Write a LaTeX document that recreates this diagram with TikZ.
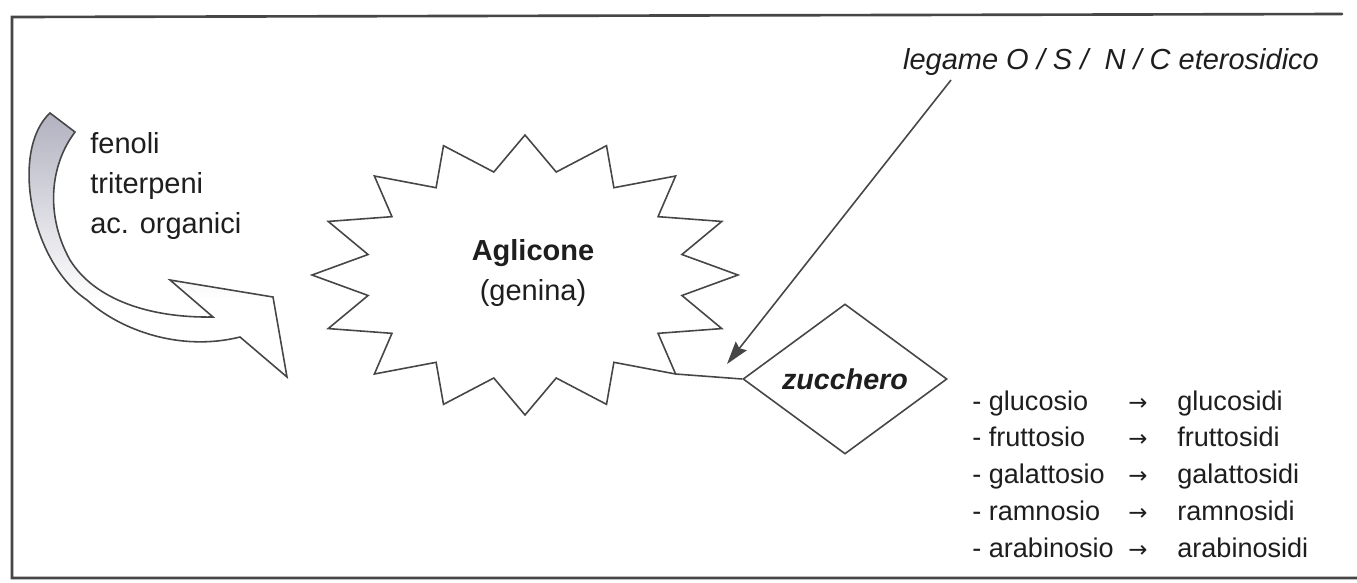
\documentclass[tikz,border=0pt]{standalone}
\usepackage{fontspec}
\setmainfont{Liberation Sans}
\newfontfamily\arrowfont{DejaVu Sans}
\usetikzlibrary{shapes.geometric,arrows.meta}
\definecolor{arrowgray}{RGB}{172,172,188}
\definecolor{inkline}{RGB}{70,70,70}
\definecolor{inktext}{RGB}{30,30,30}
\newcommand{\sugarto}{{\arrowfont\fontsize{13}{21}\selectfont\symbol{"2192}}}
\begin{document}
\begin{tikzpicture}[x=0.2mm,y=-0.2mm,
  frame/.style={line width=1.5pt, draw=inkline, line cap=round},
  outl/.style={line width=0.9pt, draw=inkline, line join=miter},
  txt/.style={inner sep=0pt, text=inktext}]
\useasboundingbox (0,0) rectangle (1357,582);
\fill[white] (0,0) rectangle (1357,582);
% frame
\draw[frame] (1342,14) -- (12,17) -- (12,578) -- (1357,578);
% curved block arrow
\def\bandpath{(50,113) .. controls (10,150) and (30,262) .. (87,300)
  .. controls (120,330) and (180,352) .. (240,337)
  -- (287,377) -- (273,297) -- (170,280) -- (213,317)
  .. controls (150,318) and (95,300) .. (70,260)
  .. controls (45,215) and (50,165) .. (75,132) -- cycle}
\fill[white] \bandpath;
\begin{scope}
  \clip \bandpath;
  \shade[top color=arrowgray, middle color=arrowgray!80, bottom color=white]
    (0,100) rectangle (320,300);
\end{scope}
\draw[outl] \bandpath;
\node[txt, anchor=base west, font=\fontsize{16.5}{22.8}\selectfont] (src) at (90,153)
  {\begin{tabular}[t]{@{}l@{}}fenoli\\triterpeni\\ac. organici\end{tabular}};
% starburst
\draw[outl, fill=white] (525,135)
  \foreach \k in {0,...,15}{
    -- ({525+160*cos(78.75-22.5*\k)},{275-105*sin(78.75-22.5*\k)})
    -- ({525+213*cos(67.5-22.5*\k)},{275-140*sin(67.5-22.5*\k)})
  } -- cycle;
\node[txt, align=center, font=\fontsize{16.5}{22.8}\selectfont] (ag) at (533,273)
  {\textbf{Aglicone}\\(genina)};
% sugar
\node[draw=inkline, line width=0.9pt, diamond, minimum width=40.8mm, minimum height=30mm,
  inner sep=0pt, text=inktext, font=\bfseries\itshape\fontsize{16.3}{20}\selectfont]
  (zuc) at (845,379) {zucchero};
\coordinate (stip) at (675.6,374);
\draw[outl] (stip) -- (zuc.west);
% bond label and arrow
\node[txt, font=\itshape\fontsize{16.5}{20}\selectfont] (leg) at (1111,62)
  {legame O / S /\ \ N / C eterosidico};
\coordinate (legfoot) at (951,80);
\coordinate (bond) at (727,364);
\draw[outl, -{Stealth[length=4.6mm,width=2.8mm,inset=0.6mm]}] (legfoot) -- (bond);
% list
\node[txt, anchor=base west, font=\fontsize{15.4}{21}\selectfont] (list) at (972,410)
  {\begin{tabular}[t]{@{}p{31.2mm}@{}p{9.8mm}@{}l@{}}
  - glucosio & \sugarto & glucosidi\\
  - fruttosio & \sugarto & fruttosidi\\
  - galattosio & \sugarto & galattosidi\\
  - ramnosio & \sugarto & ramnosidi\\
  - arabinosio & \sugarto & arabinosidi
  \end{tabular}};
\end{tikzpicture}
\end{document}
